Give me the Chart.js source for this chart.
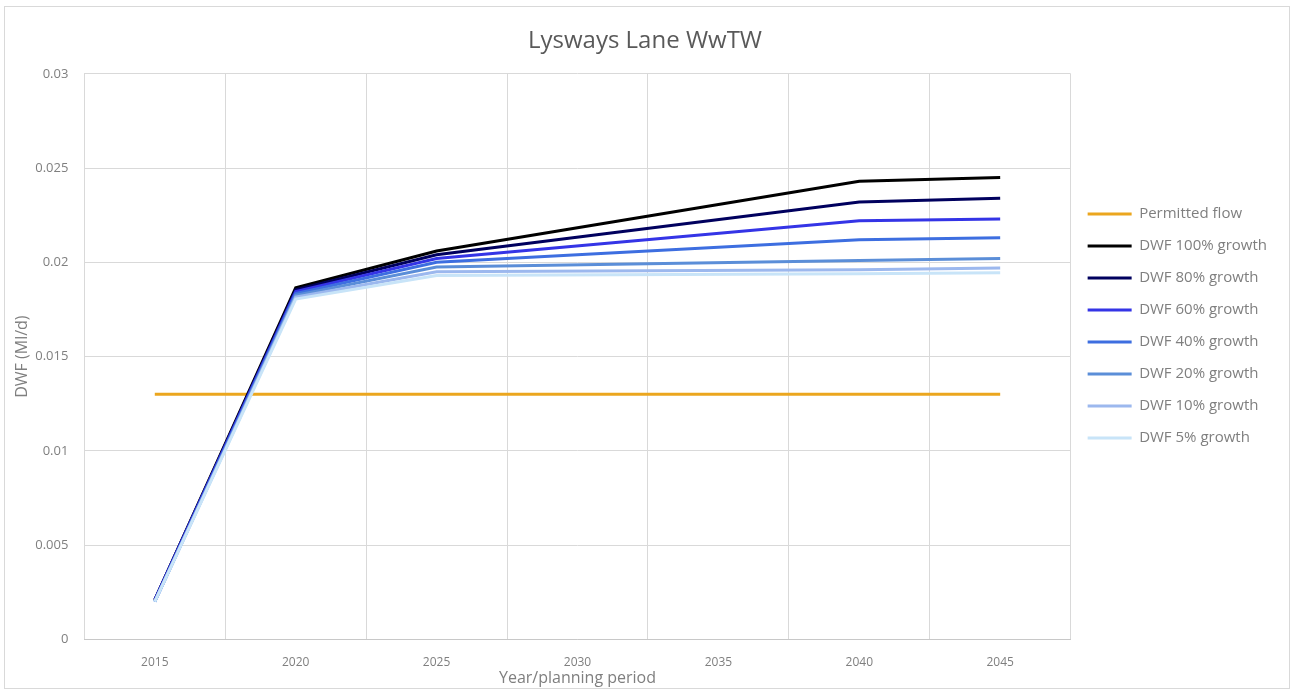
<!DOCTYPE html>
<html>
<head>
<meta charset="utf-8">
<title>Lysways Lane WwTW</title>
<script src="https://cdn.jsdelivr.net/npm/chart.js@4.4.0/dist/chart.umd.min.js"></script>
<style>
  body { margin: 0; background: #fff; }
  #frame {
    position: absolute; left: 4px; top: 6px;
    width: 1286px; height: 683px;
    border: 1px solid #d9d9d9; box-sizing: border-box;
  }
</style>
</head>
<body>
<div id="frame"><canvas id="myChart"></canvas></div>
<script>
// años / periodos de planificación
const years = ['2015', '2020', '2025', '2030', '2035', '2040', '2045'];
const yTicks = [0, 0.005, 0.01, 0.015, 0.02, 0.025, 0.03];

// caudal permitido
const permittedFlow = [0.013, 0.013, 0.013, 0.013, 0.013, 0.013, 0.013];

// DWF por escenario de crecimiento (sin dato en 2030 y 2035)
const dwf100 = [0.0021, 0.01865, 0.0206, null, null, 0.0243, 0.0245];
const dwf80  = [0.0021, 0.01855, 0.0204, null, null, 0.0232, 0.0234];
const dwf60  = [0.0021, 0.01845, 0.0202, null, null, 0.0222, 0.0223];
const dwf40  = [0.0020, 0.01835, 0.0200, null, null, 0.0212, 0.0213];
const dwf20  = [0.0020, 0.01825, 0.01975, null, null, 0.0201, 0.0202];
const dwf10  = [0.0020, 0.01815, 0.0195, null, null, 0.0196, 0.0197];
const dwf5   = [0.0020, 0.01805, 0.0193, null, null, 0.0194, 0.01945];

const seriesNames = ['Permitted flow', 'DWF 100% growth', 'DWF 80% growth', 'DWF 60% growth',
                     'DWF 40% growth', 'DWF 20% growth', 'DWF 10% growth', 'DWF 5% growth'];
const seriesData = [permittedFlow, dwf100, dwf80, dwf60, dwf40, dwf20, dwf10, dwf5];
const seriesColors = ['#EBA61E', '#000000', '#00005E', '#3434E6', '#3D6EE0',
                      '#5B8ED8', '#9CB8EE', '#C8E4F8'];

const fontFamily = "'Open Sans', 'Liberation Sans', sans-serif";
const grey = '#7f7f7f';

const datasets = seriesNames.map((name, i) => ({
    label: name,
    data: seriesData[i],
    borderColor: seriesColors[i],
    backgroundColor: seriesColors[i],
    borderWidth: 3,
    pointRadius: 0,
    tension: 0,
    spanGaps: true,
    // las últimas series quedan encima, como en la hoja original
    order: seriesNames.length - i
}));

const ctx = document.getElementById('myChart').getContext('2d');
const myChart = new Chart(ctx, {
    type: 'line',
    data: { labels: years, datasets },
    options: {
        responsive: true,
        maintainAspectRatio: false,
        animation: false,
        layout: { padding: { left: 8, right: 12, top: 4, bottom: 0 } },
        plugins: {
            title: {
                display: true,
                text: 'Lysways Lane WwTW',
                color: '#595959',
                font: { family: fontFamily, size: 24, weight: 'normal' },
                padding: { top: 16, bottom: 18 }
            },
            legend: {
                position: 'right',
                align: 'start',
                title: {
                    display: true,
                    text: ' ',
                    padding: { top: 164, bottom: 0 },
                    font: { size: 12 }
                },
                labels: {
                    color: grey,
                    font: { family: fontFamily, size: 15 },
                    usePointStyle: true,
                    pointStyle: 'line',
                    pointStyleWidth: 44,
                    padding: 17,
                    sort: (a, b) => a.datasetIndex - b.datasetIndex
                }
            },
            tooltip: { enabled: false }
        },
        scales: {
            x: {
                offset: true,
                grid: { offset: true, color: '#d9d9d9', drawTicks: false },
                border: { color: '#c8c8c8' },
                ticks: { color: grey, font: { family: fontFamily, size: 12 }, padding: 16 },
                title: {
                    display: true,
                    text: 'Year/planning period',
                    color: grey,
                    font: { family: fontFamily, size: 16 },
                    padding: { top: -17, bottom: 0 }
                }
            },
            y: {
                min: 0,
                max: 0.03,
                afterBuildTicks: axis => { axis.ticks = yTicks.map(v => ({ value: v })); },
                grid: { color: '#d9d9d9', drawTicks: false },
                border: { display: false },
                ticks: {
                    color: grey,
                    font: { family: fontFamily, size: 13 },
                    padding: 16,
                    callback: v => String(v)
                },
                title: {
                    display: true,
                    text: 'DWF (Ml/d)',
                    color: grey,
                    font: { family: fontFamily, size: 16 },
                    padding: { top: 0, bottom: -13 }
                }
            }
        }
    }
});
</script>
</body>
</html>
